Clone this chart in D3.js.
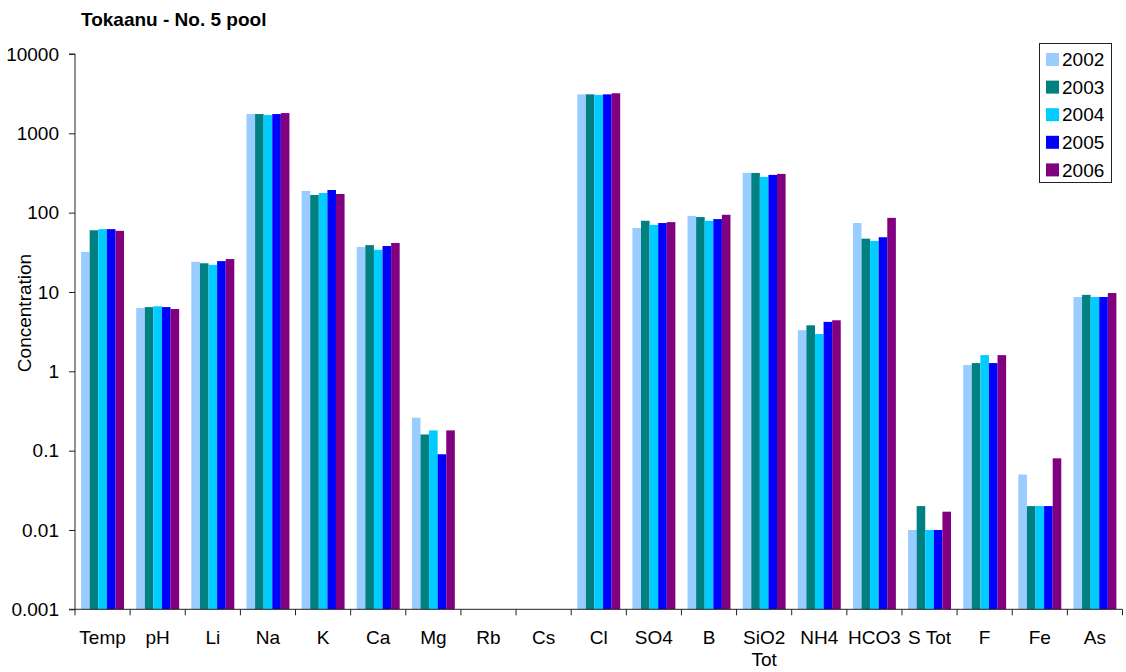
<!DOCTYPE html>
<html>
<head>
<meta charset="utf-8">
<script src="https://cdn.jsdelivr.net/npm/d3@7"></script>
<style>
  html, body { margin: 0; padding: 0; background: #fff; }
  svg { display: block; font-family: "Liberation Sans", Arial, sans-serif; }
</style>
</head>
<body>
<svg id="chart" width="1126" height="672"></svg>
<script>
const categories = ["Temp", "pH", "Li", "Na", "K", "Ca", "Mg", "Rb", "Cs", "Cl", "SO4", "B", "SiO2 Tot", "NH4", "HCO3", "S Tot", "F", "Fe", "As"];
const years = ["2002", "2003", "2004", "2005", "2006"];
const v2002 = [32, 6.3, 24, 1750, 188, 37, 0.26, null, null, 3100, 64, 91, 317, 3.3, 74, 0.01, 1.2, 0.05, 8.65];
const v2003 = [60, 6.45, 23, 1750, 167, 39, 0.16, null, null, 3100, 79, 88, 317, 3.8, 47, 0.02, 1.27, 0.02, 9.2];
const v2004 = [62, 6.6, 22, 1700, 177, 34, 0.18, null, null, 3050, 70, 79, 282, 2.95, 44, 0.01, 1.6, 0.02, 8.65];
const v2005 = [62, 6.45, 24.5, 1750, 193, 38, 0.09, null, null, 3100, 74, 83, 299, 4.2, 49, 0.01, 1.27, 0.02, 8.65];
const v2006 = [59, 6.1, 26, 1800, 172, 41.5, 0.18, null, null, 3200, 76, 94, 308, 4.4, 86, 0.017, 1.6, 0.08, 9.7];
const yTicks = [0.001, 0.01, 0.1, 1, 10, 100, 1000, 10000];
const tickLabels = ["0.001", "0.01", "0.1", "1", "10", "100", "1000", "10000"];
const colors = ["#99CCFF", "#008080", "#00CCFF", "#0000FF", "#800080"];
const titleText = "Tokaanu - No. 5 pool";
const yTitle = "Concentration";

const series = [v2002, v2003, v2004, v2005, v2006];

const svg = d3.select("#chart");
const plotL = 75, plotR = 1122.5, plotT = 54, plotB = 609.3;
const fs = 19;

const x0 = d3.scaleBand().domain(categories).range([plotL, plotR]).padding(0);
const x1 = d3.scaleBand().domain(years).range([0, x0.bandwidth()]).paddingInner(0).paddingOuter(0.71);
const y = d3.scaleLog().domain([0.001, 10000]).range([plotB, plotT]);
const color = d3.scaleOrdinal().domain(years).range(colors);

// bars
const groups = svg.append("g").selectAll("g")
  .data(categories)
  .join("g")
  .attr("transform", d => `translate(${x0(d)},0)`);

groups.selectAll("rect")
  .data((c, i) => years.map((yr, j) => ({ year: yr, value: series[j][i] })).filter(d => d.value != null))
  .join("rect")
  .attr("x", d => x1(d.year))
  .attr("width", x1.bandwidth())
  .attr("y", d => y(d.value))
  .attr("height", d => plotB - y(d.value))
  .attr("fill", d => color(d.year));

// y axis
const yAxis = d3.axisLeft(y)
  .tickValues(yTicks)
  .tickFormat((d, i) => tickLabels[i])
  .tickSize(6)
  .tickPadding(10);
const gy = svg.append("g").attr("transform", `translate(${plotL},0)`).call(yAxis);
gy.select(".domain").attr("stroke", "#222").attr("d", `M-6,${plotT}H0V${plotB}H-6`);
gy.selectAll(".tick line").attr("stroke", "#222");
gy.selectAll(".tick text").attr("font-size", fs).attr("fill", "#000").attr("font-family", "Liberation Sans, Arial, sans-serif");

// x axis
const gx = svg.append("g").attr("transform", `translate(0,${plotB})`);
gx.append("line").attr("x1", plotL).attr("x2", plotR).attr("y1", 0).attr("y2", 0).attr("stroke", "#222");
const bounds = categories.map(c => x0(c)).concat([x0(categories[categories.length - 1]) + x0.bandwidth()]);
gx.selectAll("line.tk").data(bounds).join("line")
  .attr("class", "tk")
  .attr("x1", d => d).attr("x2", d => d)
  .attr("y1", 0).attr("y2", 6)
  .attr("stroke", "#222");
const labels = gx.selectAll("text.lbl").data(categories).join("text")
  .attr("class", "lbl")
  .attr("x", d => x0(d) + x0.bandwidth() / 2)
  .attr("y", 35)
  .attr("text-anchor", "middle")
  .attr("font-size", fs)
  .attr("fill", "#000");
labels.each(function(d) {
  const parts = d.split(" ");
  const t = d3.select(this);
  if (d === "SiO2 Tot") {
    t.append("tspan").attr("x", x0(d) + x0.bandwidth() / 2).attr("dy", 0).text(parts[0]);
    t.append("tspan").attr("x", x0(d) + x0.bandwidth() / 2).attr("dy", 21.5).text(parts[1]);
  } else {
    t.text(d);
  }
});

// y title
svg.append("text")
  .attr("transform", `translate(31,313) rotate(-90)`)
  .attr("text-anchor", "middle")
  .attr("font-size", fs)
  .attr("fill", "#000")
  .text(yTitle);

// title
svg.append("text")
  .attr("x", 81).attr("y", 26)
  .attr("font-size", 19)
  .attr("font-weight", "bold")
  .attr("fill", "#000")
  .text(titleText);

// legend
const lg = svg.append("g");
lg.append("rect").attr("x", 1039.5).attr("y", 43.5).attr("width", 72).attr("height", 139)
  .attr("fill", "#fff").attr("stroke", "#222").attr("stroke-width", 1);
const rows = lg.selectAll("g.row").data(years).join("g")
  .attr("class", "row")
  .attr("transform", (d, i) => `translate(1046,${59.5 + i * 27.6})`);
rows.append("rect").attr("x", 0).attr("y", -6.5).attr("width", 13).attr("height", 13).attr("fill", d => color(d));
rows.append("text").attr("x", 16).attr("y", 0).attr("dy", "0.35em")
  .attr("font-size", fs).attr("fill", "#000").text(d => d);
</script>
</body>
</html>
